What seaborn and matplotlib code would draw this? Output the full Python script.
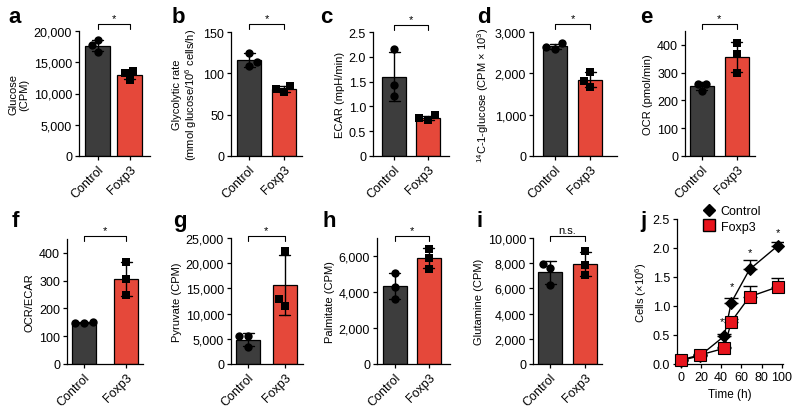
import numpy as np
import pandas as pd
import matplotlib
matplotlib.use('Agg')
import matplotlib.pyplot as plt
from matplotlib.ticker import FuncFormatter, MultipleLocator
from matplotlib.lines import Line2D
import seaborn as sns

sns.set_style('ticks')
plt.rcParams['font.family'] = ['Liberation Sans', 'DejaVu Sans']
plt.rcParams['mathtext.fontset'] = 'custom'
plt.rcParams['mathtext.rm'] = 'Liberation Sans'
plt.rcParams['font.size'] = 9
for k in ['text.color', 'axes.labelcolor', 'xtick.color', 'ytick.color', 'axes.edgecolor']:
    plt.rcParams[k] = 'black'

groups = ['Control', 'Foxp3']
colors = ['#3d3d3d', '#e5483a']

# replicate values
glucose_ctrl = [18550, 17700, 16700]
glucose_foxp3 = [13550, 13300, 12200]
glyco_ctrl = [125, 113.5, 108.6]
glyco_foxp3 = [85, 81, 78]
ecar_ctrl = [2.15, 1.44, 1.21]
ecar_foxp3 = [0.82, 0.73, 0.76]
c14_ctrl = [2726, 2597, 2637]
c14_foxp3 = [2032, 1815, 1677]
ocr_ctrl = [261, 234, 261]
ocr_foxp3 = [406, 366, 300]
ratio_ctrl = [151, 148, 149]
ratio_foxp3 = [367, 305, 247]
pyruvate_ctrl = [5640, 5640, 3300]
pyruvate_foxp3 = [22500, 12900, 11600]
palmitate_ctrl = [5050, 4270, 3620]
palmitate_foxp3 = [6410, 5910, 5300]
glutamine_ctrl = [7950, 7600, 6270]
glutamine_foxp3 = [8930, 7870, 7070]

# growth curve (panel j)
time_h = [0, 19, 43, 50, 68, 96]
cells_ctrl = [0.06, 0.14, 0.48, 1.06, 1.63, 2.04]
cells_ctrl_sd = [0.01, 0.01, 0.03, 0.08, 0.16, 0.07]
cells_foxp3 = [0.07, 0.155, 0.27, 0.73, 1.16, 1.33]
cells_foxp3_sd = [0.01, 0.01, 0.02, 0.04, 0.18, 0.16]
star_time = [41, 51, 68, 96]
star_y = [0.74, 1.35, 1.93, 2.27]

comma = FuncFormatter(lambda v, p: f'{v:,.0f}')
onedec = FuncFormatter(lambda v, p: '0' if v == 0 else f'{v:.1f}')

# letter, ylabel, values, ylim, tick step, formatter, sig label
panels = [
    ('a', 'Glucose\n(CPM)', glucose_ctrl, glucose_foxp3, 20000, 5000, comma, '*'),
    ('b', 'Glycolytic rate\n(mmol glucose/10$^{6}$ cells/h)', glyco_ctrl, glyco_foxp3, 150, 50, comma, '*'),
    ('c', 'ECAR (mpH/min)', ecar_ctrl, ecar_foxp3, 2.5, 0.5, onedec, '*'),
    ('d', '$^{14}$C-1-glucose (CPM × 10$^{3}$)', c14_ctrl, c14_foxp3, 3000, 1000, comma, '*'),
    ('e', 'OCR (pmol/min)', ocr_ctrl, ocr_foxp3, 450, 100, comma, '*'),
    ('f', 'OCR/ECAR', ratio_ctrl, ratio_foxp3, 450, 100, comma, '*'),
    ('g', 'Pyruvate (CPM)', pyruvate_ctrl, pyruvate_foxp3, 25000, 5000, comma, '*'),
    ('h', 'Palmitate (CPM)', palmitate_ctrl, palmitate_foxp3, 7000, 2000, comma, '*'),
    ('i', 'Glutamine (CPM)', glutamine_ctrl, glutamine_foxp3, 10000, 2000, comma, 'n.s.'),
]

# pixel geometry: left, right, top, bottom, centre0, centre1, bar px, bracket y, letter x
layout = [
    (79, 150, 32, 157, 97.5, 129.5, 25, 25, 8),
    (231, 302, 33, 157, 249, 284, 24, 25, 172),
    (373, 449, 33, 157, 394, 428, 24, 26, 320),
    (533, 617, 33, 157, 555, 590, 24, 25, 477),
    (685, 755, 32, 157, 701.5, 736.5, 24, 25, 640),
    (67, 143, 240, 365, 84, 126, 24, 237, 12),
    (231, 303, 239, 365, 248, 284.5, 24, 237, 173),
    (377, 450, 239, 365, 394.5, 428.5, 24, 237, 323),
    (533, 602, 239, 365, 550, 585, 24, 237, 477),
]

W, H = 800, 410
fig = plt.figure(figsize=(8, 4.1), dpi=100)


def style_axes(ax):
    sns.despine(ax=ax)
    for s in ['left', 'bottom']:
        ax.spines[s].set_linewidth(0.9)
    ax.tick_params(direction='out', length=3, width=0.9, labelsize=9, pad=2)


def bar_panel(spec, geo):
    letter, ylabel, ctrl, foxp3, ymax, step, fmt, sig = spec
    left, right, top, bottom, c0, c1, bar_px, br_y, lx = geo
    ax = fig.add_axes([left / W, (H - bottom) / H, (right - left) / W, (bottom - top) / H])
    df = pd.DataFrame({'group': ['Control'] * len(ctrl) + ['Foxp3'] * len(foxp3),
                       'value': ctrl + foxp3})
    sp = c1 - c0
    sns.barplot(data=df, x='group', y='value', hue='group', order=groups, hue_order=groups,
                palette=colors, saturation=1, errorbar='sd', capsize=11 / sp, width=bar_px / sp,
                err_kws={'color': 'black', 'linewidth': 1}, edgecolor='black',
                linewidth=0.9, legend=False, ax=ax)
    for g, m in zip(groups, ['o', 's']):
        sns.swarmplot(data=df[df.group == g], x='group', y='value', order=groups,
                      color='black', marker=m, size=6, zorder=4, ax=ax)
    ax.set_xlim((left - c0) / sp, (right - c0) / sp)
    ax.set_ylim(0, ymax)
    ax.yaxis.set_major_locator(MultipleLocator(step))
    ax.yaxis.set_major_formatter(fmt)
    ax.set_xlabel('')
    ax.set_ylabel(ylabel, fontsize=8, labelpad=3, linespacing=1.1)
    style_axes(ax)
    ax.set_xticks([0, 1])
    ax.set_xticklabels(groups, rotation=45, ha='right', rotation_mode='anchor')

    # significance bracket above the bars
    tr = ax.get_xaxis_transform()
    yb = (bottom - br_y) / (bottom - top)
    yt = (bottom - br_y - 5) / (bottom - top)
    ax.plot([0, 0, 1, 1], [yt, yb, yb, yt], transform=tr, color='black', lw=0.8, clip_on=False)
    ax.text(0.5, yb + 0.01, sig, transform=tr, ha='center', va='bottom', fontsize=8)

    ly = 23 if bottom < 200 else 227
    fig.text(lx / W, (H - ly) / H, letter, fontsize=16, fontweight='bold', va='baseline')


for spec, geo in zip(panels, layout):
    bar_panel(spec, geo)

# panel j: growth curve
ax = fig.add_axes([677 / W, (H - 365) / H, (783 - 677) / W, (365 - 220) / H])
ax.errorbar(time_h, cells_ctrl, yerr=[np.zeros(len(time_h)), cells_ctrl_sd], fmt='none',
            ecolor='black', elinewidth=1, capsize=5, capthick=1, zorder=2)
ax.errorbar(time_h, cells_foxp3, yerr=[np.zeros(len(time_h)), cells_foxp3_sd], fmt='none',
            ecolor='black', elinewidth=1, capsize=5, capthick=1, zorder=2)
sns.lineplot(x=time_h, y=cells_ctrl, color='black', lw=1, marker='D', markersize=6,
             markeredgecolor='black', ax=ax, zorder=3, clip_on=False)
sns.lineplot(x=time_h, y=cells_foxp3, color='black', lw=1, marker='s', markersize=8,
             markerfacecolor='#e8141c', markeredgecolor='black', markeredgewidth=0.8,
             ax=ax, zorder=4, clip_on=False)
for t, y in zip(star_time, star_y):
    ax.text(t, y, '*', ha='center', va='center', fontsize=8)
ax.set_xlim(-3.5, 101)
ax.set_ylim(0, 2.5)
ax.xaxis.set_major_locator(MultipleLocator(20))
ax.yaxis.set_major_locator(MultipleLocator(0.5))
ax.yaxis.set_major_formatter(FuncFormatter(lambda v, p: f'{v:.1f}'))
ax.set_xlabel('Time (h)', fontsize=8.5)
ax.set_ylabel('Cells (×10$^{6}$)', fontsize=8, labelpad=3)
style_axes(ax)
handles = [Line2D([], [], ls='none', marker='D', color='black', markersize=6),
           Line2D([], [], ls='none', marker='s', markerfacecolor='#e8141c',
                  markeredgecolor='black', markersize=8)]
fig.legend(handles, groups, loc='upper left', bbox_to_anchor=(703 / W, 1 - 206 / H),
           frameon=False, fontsize=9, handlelength=1, handletextpad=0.4,
           labelspacing=0.3, borderaxespad=0, borderpad=0)
fig.text(640 / W, (H - 227) / H, 'j', fontsize=16, fontweight='bold', va='baseline')

fig.savefig('out.png', dpi=100)
